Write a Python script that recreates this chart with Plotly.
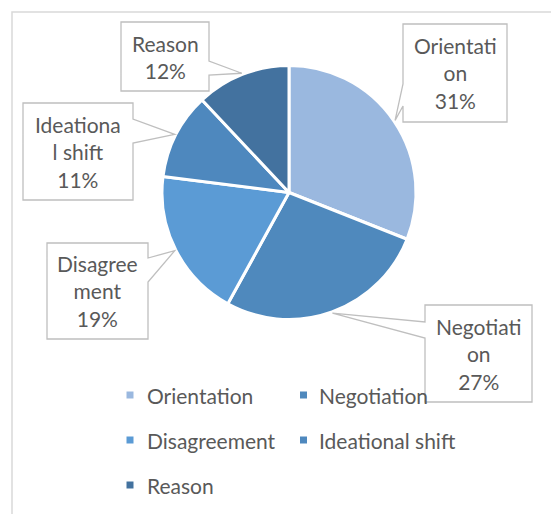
import math
import plotly.graph_objects as go

# ---- data ----
categories = ["Orientation", "Negotiation", "Disagreement", "Ideational shift", "Reason"]
values = [31, 27, 19, 11, 12]
label_texts = ["Orientati<br>on", "Negotiati<br>on", "Disagree<br>ment", "Ideationa<br>l shift", "Reason"]
colors = ["#9AB8DF", "#4F89BD", "#5B9BD5", "#4E88BE", "#43729F"]

# ---- layout constants (pixels) ----
W, H = 551, 514
CX, CY, R = 289, 192.5, 127
FONT = "Lato, 'Open Sans', sans-serif"
TXT = "#595959"


def px(x):
    return x / W


def py(y):
    return 1 - y / H


fig = go.Figure()
fig.add_trace(go.Pie(
    labels=categories, values=values, sort=False, direction="clockwise",
    marker=dict(colors=colors, line=dict(color="white", width=3)),
    textinfo="none", hoverinfo="label+percent", showlegend=False,
    domain=dict(x=[px(CX - R), px(CX + R)], y=[py(CY + R), py(CY - R)]),
))

# callout boxes: (x0, y0, x1, y1), side of wedge, wedge base y-range
boxes = [
    ((403, 24, 507, 122), "left", (84, 106)),
    ((425, 305, 532, 402), "left", (322, 338)),
    ((47, 243, 148, 339), "right", (258, 282)),
    ((23, 103, 133, 200), "right", (119, 143)),
    ((121, 22, 209, 91), "right", (61, 75)),
]

total = sum(values)
shapes = []
annotations = []
cum = 0
for i, v in enumerate(values):
    theta = 2 * math.pi * (cum + v / 2) / total
    cum += v
    rt = R * 1.01
    tx = CX + rt * math.sin(theta)
    ty = CY - rt * math.cos(theta)
    (x0, y0, x1, y1), side, (b0, b1) = boxes[i]
    if side == "right":
        pts = [(x0, y0), (x1, y0), (x1, b0), (tx, ty), (x1, b1), (x1, y1), (x0, y1)]
    else:
        pts = [(x0, y0), (x1, y0), (x1, y1), (x0, y1), (x0, b1), (tx, ty), (x0, b0)]
    path = "M " + " L ".join(f"{px(a):.5f},{py(b):.5f}" for a, b in pts) + " Z"
    shapes.append(dict(type="path", path=path, xref="paper", yref="paper",
                       fillcolor="white", line=dict(color="#BFBFBF", width=1.3),
                       layer="above"))
    pct = round(100 * v / total)
    annotations.append(dict(
        x=px((x0 + x1) / 2), y=py((y0 + y1) / 2), xref="paper", yref="paper",
        text=f"{label_texts[i]}<br>{pct}%", showarrow=False, align="center",
        xanchor="center", yanchor="middle",
        font=dict(family=FONT, size=21, color=TXT)))

# custom legend
leg_marker_x = [130, 303.5]
leg_text_x = [145, 317]
leg_rows = [395, 440, 485]
for i, name in enumerate(categories):
    col, row = i % 2, i // 2
    mx, my = leg_marker_x[col], leg_rows[row]
    shapes.append(dict(type="rect", xref="paper", yref="paper",
                       x0=px(mx - 3.5), x1=px(mx + 3.5), y0=py(my + 3.5), y1=py(my - 3.5),
                       fillcolor=colors[i], line=dict(width=0), layer="above"))
    annotations.append(dict(
        x=px(leg_text_x[col]), y=py(my), xref="paper", yref="paper",
        text=name, showarrow=False, xanchor="left", yanchor="middle",
        font=dict(family=FONT, size=21, color=TXT)))

# chart frame
shapes.append(dict(type="rect", xref="paper", yref="paper",
                   x0=px(12), y0=py(12), x1=px(700), y1=py(700),
                   line=dict(color="#D9D9D9", width=1.5), fillcolor="rgba(0,0,0,0)",
                   layer="below"))

fig.update_layout(
    width=W, height=H, margin=dict(l=0, r=0, t=0, b=0),
    paper_bgcolor="white", plot_bgcolor="white",
    shapes=shapes, annotations=annotations, showlegend=False,
    font=dict(family=FONT, color=TXT),
)

fig.write_html("out.html")
